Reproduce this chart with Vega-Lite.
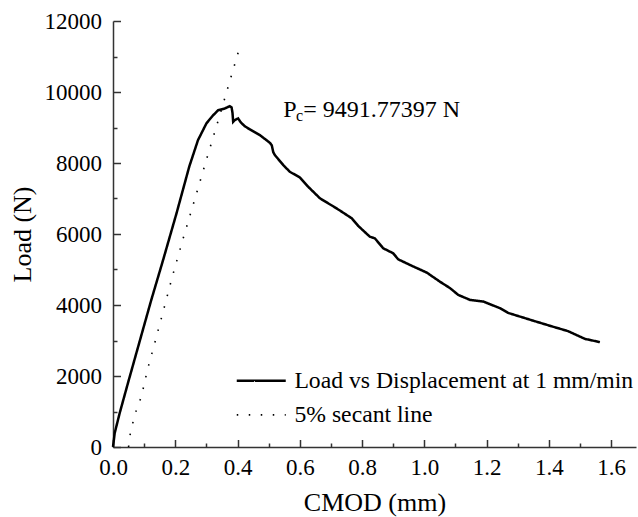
{
  "$schema": "https://vega.github.io/schema/vega-lite/v6.json",
  "width": 523,
  "height": 426,
  "autosize": {"type": "none"},
  "padding": {"left": 113, "top": 21, "right": 2, "bottom": 70},
  "background": "white",
  "config": {
    "view": {"stroke": null},
    "font": "'Liberation Serif', 'Times New Roman', Times, serif",
    "axis": {
      "grid": false,
      "domainColor": "#333333",
      "domainWidth": 1.5,
      "tickColor": "#333333",
      "tickWidth": 1.5,
      "labelFont": "'Liberation Serif', 'Times New Roman', Times, serif",
      "labelFontSize": 23,
      "labelColor": "black",
      "labelFlush": false,
      "labelOverlap": false,
      "titleFont": "'Liberation Serif', 'Times New Roman', Times, serif",
      "titleFontSize": 26,
      "titleFontWeight": "normal",
      "titleColor": "black"
    },
    "legend": {
      "labelFont": "'Liberation Serif', 'Times New Roman', Times, serif",
      "labelFontSize": 23.7,
      "labelColor": "black",
      "labelLimit": 0
    }
  },
  "datasets": {
    "curves": [
      {"series": "Load vs Displacement at 1 mm/min", "cmod": 0, "load": 0},
      {"series": "Load vs Displacement at 1 mm/min", "cmod": 0.0055, "load": 394},
      {"series": "Load vs Displacement at 1 mm/min", "cmod": 0.0215, "load": 956},
      {"series": "Load vs Displacement at 1 mm/min", "cmod": 0.048, "load": 1800},
      {"series": "Load vs Displacement at 1 mm/min", "cmod": 0.075, "load": 2644},
      {"series": "Load vs Displacement at 1 mm/min", "cmod": 0.102, "load": 3488},
      {"series": "Load vs Displacement at 1 mm/min", "cmod": 0.123, "load": 4143},
      {"series": "Load vs Displacement at 1 mm/min", "cmod": 0.161, "load": 5269},
      {"series": "Load vs Displacement at 1 mm/min", "cmod": 0.204, "load": 6582},
      {"series": "Load vs Displacement at 1 mm/min", "cmod": 0.245, "load": 7900},
      {"series": "Load vs Displacement at 1 mm/min", "cmod": 0.273, "load": 8644},
      {"series": "Load vs Displacement at 1 mm/min", "cmod": 0.3, "load": 9114},
      {"series": "Load vs Displacement at 1 mm/min", "cmod": 0.32, "load": 9330},
      {"series": "Load vs Displacement at 1 mm/min", "cmod": 0.338, "load": 9488},
      {"series": "Load vs Displacement at 1 mm/min", "cmod": 0.359, "load": 9536},
      {"series": "Load vs Displacement at 1 mm/min", "cmod": 0.375, "load": 9600},
      {"series": "Load vs Displacement at 1 mm/min", "cmod": 0.381, "load": 9565},
      {"series": "Load vs Displacement at 1 mm/min", "cmod": 0.384, "load": 9400},
      {"series": "Load vs Displacement at 1 mm/min", "cmod": 0.386, "load": 9159},
      {"series": "Load vs Displacement at 1 mm/min", "cmod": 0.391, "load": 9207},
      {"series": "Load vs Displacement at 1 mm/min", "cmod": 0.402, "load": 9255},
      {"series": "Load vs Displacement at 1 mm/min", "cmod": 0.41, "load": 9150},
      {"series": "Load vs Displacement at 1 mm/min", "cmod": 0.423, "load": 9038},
      {"series": "Load vs Displacement at 1 mm/min", "cmod": 0.44, "load": 8945},
      {"series": "Load vs Displacement at 1 mm/min", "cmod": 0.472, "load": 8785},
      {"series": "Load vs Displacement at 1 mm/min", "cmod": 0.504, "load": 8568},
      {"series": "Load vs Displacement at 1 mm/min", "cmod": 0.51, "load": 8500},
      {"series": "Load vs Displacement at 1 mm/min", "cmod": 0.515, "load": 8300},
      {"series": "Load vs Displacement at 1 mm/min", "cmod": 0.52, "load": 8222},
      {"series": "Load vs Displacement at 1 mm/min", "cmod": 0.547, "load": 7941},
      {"series": "Load vs Displacement at 1 mm/min", "cmod": 0.568, "load": 7752},
      {"series": "Load vs Displacement at 1 mm/min", "cmod": 0.6, "load": 7595},
      {"series": "Load vs Displacement at 1 mm/min", "cmod": 0.627, "load": 7331},
      {"series": "Load vs Displacement at 1 mm/min", "cmod": 0.665, "load": 7004},
      {"series": "Load vs Displacement at 1 mm/min", "cmod": 0.718, "load": 6723},
      {"series": "Load vs Displacement at 1 mm/min", "cmod": 0.767, "load": 6442},
      {"series": "Load vs Displacement at 1 mm/min", "cmod": 0.788, "load": 6225},
      {"series": "Load vs Displacement at 1 mm/min", "cmod": 0.825, "load": 5924},
      {"series": "Load vs Displacement at 1 mm/min", "cmod": 0.841, "load": 5879},
      {"series": "Load vs Displacement at 1 mm/min", "cmod": 0.868, "load": 5598},
      {"series": "Load vs Displacement at 1 mm/min", "cmod": 0.9, "load": 5457},
      {"series": "Load vs Displacement at 1 mm/min", "cmod": 0.916, "load": 5288},
      {"series": "Load vs Displacement at 1 mm/min", "cmod": 0.954, "load": 5128},
      {"series": "Load vs Displacement at 1 mm/min", "cmod": 1.008, "load": 4912},
      {"series": "Load vs Displacement at 1 mm/min", "cmod": 1.05, "load": 4658},
      {"series": "Load vs Displacement at 1 mm/min", "cmod": 1.083, "load": 4473},
      {"series": "Load vs Displacement at 1 mm/min", "cmod": 1.109, "load": 4284},
      {"series": "Load vs Displacement at 1 mm/min", "cmod": 1.147, "load": 4143},
      {"series": "Load vs Displacement at 1 mm/min", "cmod": 1.19, "load": 4096},
      {"series": "Load vs Displacement at 1 mm/min", "cmod": 1.243, "load": 3910},
      {"series": "Load vs Displacement at 1 mm/min", "cmod": 1.269, "load": 3778},
      {"series": "Load vs Displacement at 1 mm/min", "cmod": 1.355, "load": 3544},
      {"series": "Load vs Displacement at 1 mm/min", "cmod": 1.408, "load": 3403},
      {"series": "Load vs Displacement at 1 mm/min", "cmod": 1.462, "load": 3263},
      {"series": "Load vs Displacement at 1 mm/min", "cmod": 1.516, "load": 3046},
      {"series": "Load vs Displacement at 1 mm/min", "cmod": 1.564, "load": 2954},
      {"series": "5% secant line", "cmod": 0.05, "load": 0},
      {"series": "5% secant line", "cmod": 0.0537, "load": 298},
      {"series": "5% secant line", "cmod": 0.0698, "load": 909},
      {"series": "5% secant line", "cmod": 0.0913, "load": 1423},
      {"series": "5% secant line", "cmod": 0.1106, "load": 2174},
      {"series": "5% secant line", "cmod": 0.134, "load": 2925},
      {"series": "5% secant line", "cmod": 0.167, "load": 4011},
      {"series": "5% secant line", "cmod": 0.19, "load": 4782},
      {"series": "5% secant line", "cmod": 0.223, "load": 5803},
      {"series": "5% secant line", "cmod": 0.267, "load": 7105},
      {"series": "5% secant line", "cmod": 0.3, "load": 8090},
      {"series": "5% secant line", "cmod": 0.345, "load": 9404},
      {"series": "5% secant line", "cmod": 0.411, "load": 11381}
    ],
    "notes": [
      {"cmod": 0.5466, "load": 9300, "label": "P", "size": 24},
      {"cmod": 0.5875, "load": 9170, "label": "c", "size": 16},
      {"cmod": 0.6113, "load": 9300, "label": "= 9491.77397 N", "size": 24}
    ]
  },
  "layer": [
    {
      "data": {"name": "curves"},
      "mark": {"type": "line", "color": "black", "strokeCap": "butt"},
      "encoding": {
        "x": {
          "field": "cmod", "type": "quantitative",
          "scale": {"domain": [0, 1.68], "nice": false, "zero": false},
          "axis": {
            "orient": "bottom",
            "values": [0, 0.2, 0.4, 0.6, 0.8, 1.0, 1.2, 1.4, 1.6],
            "format": ".1f",
            "title": "CMOD (mm)",
            "tickSize": -7.5,
            "labelPadding": 16.9,
            "titlePadding": 10
          }
        },
        "y": {
          "field": "load", "type": "quantitative",
          "scale": {"domain": [0, 12000], "nice": false},
          "axis": {
            "orient": "left",
            "values": [0, 2000, 4000, 6000, 8000, 10000, 12000],
            "format": "d",
            "title": "Load (N)",
            "tickSize": -7.5,
            "labelPadding": 19.1,
            "titlePadding": 8
          }
        },
        "strokeDash": {
          "field": "series", "type": "nominal",
          "scale": {"domain": ["Load vs Displacement at 1 mm/min", "5% secant line"], "range": [[1, 0], [1.5, 10.5]]},
          "legend": {"title": null, "orient": "none", "legendX": 136.4, "legendY": 348, "padding": 0, "symbolType": "M-2.45,0H2.45", "symbolSize": 400, "labelOffset": 21.3, "rowPadding": 9, "symbolStrokeColor": "black"}
        },
        "strokeWidth": {
          "field": "series", "type": "nominal",
          "scale": {"domain": ["Load vs Displacement at 1 mm/min", "5% secant line"], "range": [2.5, 1.6]},
          "legend": {"title": null, "orient": "none", "legendX": 136.4, "legendY": 348, "padding": 0, "symbolType": "M-2.45,0H2.45", "symbolSize": 400, "labelOffset": 21.3, "rowPadding": 9, "symbolStrokeColor": "black"}
        }
      }
    },
    {
      "data": {"name": "curves"},
      "mark": {"type": "point", "opacity": 0},
      "encoding": {
        "x": {
          "field": "cmod", "type": "quantitative",
          "axis": {
            "orient": "bottom",
            "values": [0.1, 0.3, 0.5, 0.7, 0.9, 1.1, 1.3, 1.5],
            "labels": false, "domain": false, "title": null,
            "tickSize": -4
          }
        },
        "y": {
          "field": "load", "type": "quantitative",
          "axis": {
            "orient": "left",
            "values": [1000, 3000, 5000, 7000, 9000, 11000],
            "labels": false, "domain": false, "title": null,
            "tickSize": -4
          }
        }
      }
    },
    {
      "data": {"name": "notes"},
      "mark": {"type": "text", "align": "left", "baseline": "alphabetic", "color": "black", "font": "'Liberation Serif', 'Times New Roman', Times, serif"},
      "encoding": {
        "x": {"field": "cmod", "type": "quantitative", "axis": null},
        "y": {"field": "load", "type": "quantitative", "axis": null},
        "text": {"field": "label"},
        "size": {"field": "size", "type": "quantitative", "scale": null, "legend": null}
      }
    }
  ],
  "resolve": {"axis": {"x": "independent", "y": "independent"}}
}
